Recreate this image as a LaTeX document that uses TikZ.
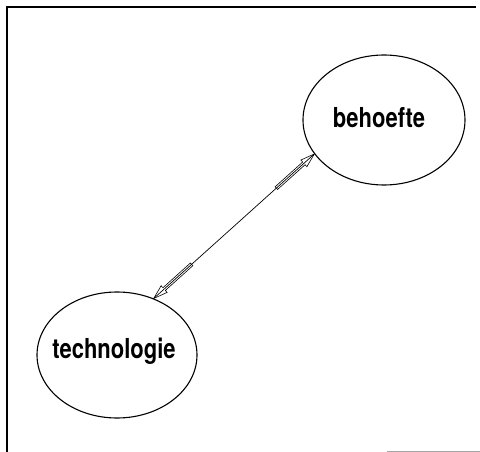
\documentclass[tikz,border=0pt]{standalone}
\usepackage{fontspec}
\usepackage{graphicx}
\setmainfont{TeX Gyre Heros}
\usetikzlibrary{shapes.geometric,calc}

\tikzset{
  blob/.style={draw, ellipse, line width=1.1pt, inner sep=0pt},
  blobtext/.style={anchor=base, inner sep=0pt,
    font=\fontsize{22}{26}\selectfont\bfseries},
  frameline/.style={line width=1.2pt},
  link/.style={line width=0.7pt},
  hollowtip/.style={line width=0.6pt, line join=miter},
}

% outlined arrow end: tip at #1, pointing away from #2
\newcommand{\hollowend}[2]{%
  \draw[hollowtip]
    (#1)
    -- ($($(#1)!14pt!(#2)$)!4.5pt!90:(#1)$)
    -- ($($(#1)!14pt!(#2)$)!1.8pt!90:(#1)$)
    -- ($($(#1)!51pt!(#2)$)!1.8pt!90:(#1)$)
    -- ($($(#1)!51pt!(#2)$)!1.8pt!-90:(#1)$)
    -- ($($(#1)!14pt!(#2)$)!1.8pt!-90:(#1)$)
    -- ($($(#1)!14pt!(#2)$)!4.5pt!-90:(#1)$)
    -- cycle;}

\begin{document}
\begin{tikzpicture}[x=1pt, y=-1pt]
  \useasboundingbox (0,0) rectangle (480,452);

  % frame
  \draw[frameline] (7,452) -- (7,7) -- (476,7);
  \draw[line width=0.6pt, black!35] (387,451) -- (480,451);

  % the two ellipses
  \node[blob, minimum width=162pt, minimum height=130pt] (beh) at (384,120) {};
  \node[blob, minimum width=160pt, minimum height=126pt] (tech) at (117,355) {};

  \node[blobtext] (behlabel) at (379,128) {\scalebox{1}[1.25]{behoefte}};
  \node[blobtext] (techlabel) at (114,358) {\scalebox{1}[1.25]{technologie}};

  % double-headed connector
  \coordinate (tipT) at (tech.57);
  \coordinate (tipB) at (beh.206);
  \draw[link] (tipT) -- (tipB);
  \hollowend{tipB}{tipT}
  \hollowend{tipT}{tipB}
\end{tikzpicture}
\end{document}
